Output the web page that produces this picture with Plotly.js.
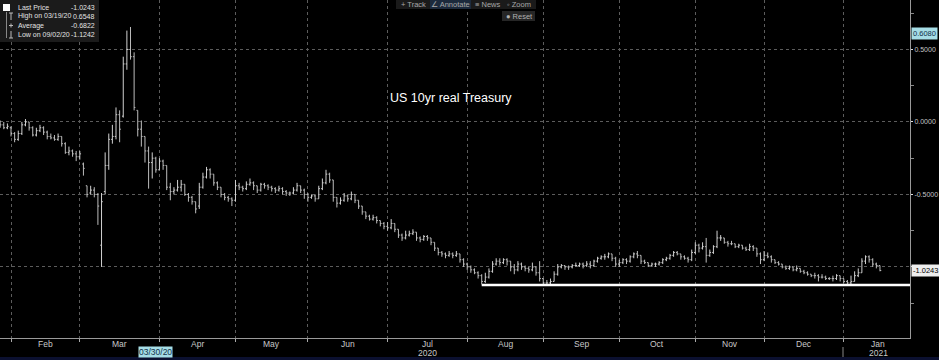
<!DOCTYPE html>
<html><head><meta charset="utf-8">
<script src="https://cdn.plot.ly/plotly-3.0.1.min.js"></script>
<style>html,body{margin:0;padding:0;background:#000;}#chart{width:939px;height:360px;}</style>
</head><body><div id="chart"></div>
<script>
// ---- data (US 10yr real Treasury yield, daily OHLC, trading days from 2020-01-29) ----
const START_DATE = '2020-01-29';
const HOLIDAYS = ['2020-02-17','2020-04-10','2020-05-25','2020-07-03','2020-09-07','2020-10-12','2020-11-11','2020-11-26','2020-12-25','2021-01-01','2021-01-18'];
const OPEN = [
-0.01,-0.02,-0.04,-0.04,-0.08,-0.12,-0.08,-0.02,0.00,-0.04,
-0.09,-0.06,-0.04,-0.07,-0.10,-0.11,-0.12,-0.10,-0.15,-0.21,
-0.20,-0.22,-0.24,-0.29,-0.44,-0.49,-0.47,-0.50,-0.85,-0.48,
-0.30,-0.12,-0.10,0.05,0.04,0.40,0.50,0.45,0.08,-0.05,
-0.10,-0.20,-0.28,-0.25,-0.33,-0.27,-0.30,-0.45,-0.48,-0.47,
-0.45,-0.43,-0.50,-0.52,-0.55,-0.58,-0.45,-0.38,-0.33,-0.36,
-0.42,-0.45,-0.50,-0.52,-0.53,-0.54,-0.44,-0.45,-0.46,-0.43,
-0.42,-0.44,-0.47,-0.43,-0.44,-0.45,-0.46,-0.47,-0.46,-0.48,
-0.49,-0.49,-0.47,-0.44,-0.47,-0.50,-0.52,-0.51,-0.53,-0.46,
-0.42,-0.36,-0.40,-0.52,-0.56,-0.54,-0.51,-0.53,-0.50,-0.54,
-0.58,-0.62,-0.65,-0.67,-0.66,-0.68,-0.70,-0.72,-0.73,-0.70,
-0.74,-0.78,-0.80,-0.78,-0.77,-0.76,-0.80,-0.81,-0.79,-0.80,
-0.83,-0.87,-0.90,-0.91,-0.92,-0.91,-0.92,-0.91,-0.95,-0.98,
-1.00,-1.02,-1.04,-1.06,-1.10,-1.07,-1.03,-0.98,-0.96,-0.97,
-0.95,-0.96,-1.00,-1.02,-0.98,-1.00,-1.01,-1.02,-1.00,-1.04,
-1.08,-1.11,-1.11,-1.10,-1.05,-1.00,-0.99,-1.00,-1.00,-0.99,
-0.99,-0.98,-0.99,-0.98,-0.99,-0.96,-0.94,-0.93,-0.93,-0.91,
-0.94,-0.98,-0.97,-0.95,-0.96,-0.93,-0.91,-0.92,-0.96,-0.97,
-0.99,-0.98,-0.98,-0.97,-0.95,-0.94,-0.92,-0.90,-0.91,-0.93,
-0.94,-0.95,-0.90,-0.85,-0.87,-0.86,-0.92,-0.90,-0.86,-0.80,
-0.80,-0.83,-0.84,-0.84,-0.86,-0.85,-0.87,-0.88,-0.86,-0.87,
-0.91,-0.95,-0.92,-0.93,-0.95,-0.97,-0.98,-1.00,-1.01,-1.00,
-1.02,-1.01,-1.03,-1.04,-1.05,-1.06,-1.06,-1.07,-1.07,-1.08,
-1.08,-1.08,-1.06,-1.08,-1.10,-1.11,-1.10,-1.06,-1.04,-0.96,
-0.93,-0.95,-0.98,-0.99];
const HIGH = [
0.01,0.00,-0.01,-0.03,-0.07,-0.06,0.00,0.02,0.00,-0.03,
-0.04,-0.02,-0.03,-0.06,-0.08,-0.09,-0.08,-0.10,-0.14,-0.17,
-0.19,-0.20,-0.20,-0.28,-0.44,-0.44,-0.45,-0.49,-0.49,-0.21,
-0.08,-0.02,0.10,0.08,0.45,0.63,0.655,0.48,0.08,0.01,
-0.10,-0.17,-0.21,-0.24,-0.25,-0.26,-0.30,-0.42,-0.45,-0.40,
-0.40,-0.43,-0.49,-0.51,-0.55,-0.42,-0.35,-0.31,-0.32,-0.36,
-0.41,-0.45,-0.49,-0.51,-0.52,-0.40,-0.42,-0.44,-0.41,-0.39,
-0.41,-0.44,-0.42,-0.42,-0.43,-0.44,-0.45,-0.44,-0.45,-0.47,
-0.48,-0.45,-0.42,-0.44,-0.46,-0.49,-0.50,-0.50,-0.44,-0.39,
-0.33,-0.35,-0.40,-0.52,-0.52,-0.49,-0.50,-0.48,-0.50,-0.54,
-0.58,-0.62,-0.64,-0.64,-0.65,-0.68,-0.69,-0.69,-0.67,-0.70,
-0.74,-0.77,-0.75,-0.75,-0.74,-0.76,-0.79,-0.78,-0.78,-0.80,
-0.83,-0.87,-0.89,-0.90,-0.89,-0.90,-0.89,-0.91,-0.94,-0.97,
-0.99,-1.01,-1.03,-1.05,-1.04,-1.01,-0.96,-0.94,-0.94,-0.94,
-0.94,-0.96,-0.98,-0.96,-0.97,-0.99,-1.00,-0.97,-1.00,-0.96,
-1.08,-1.09,-1.08,-1.03,-0.98,-0.98,-0.99,-0.99,-0.98,-0.97,
-0.97,-0.97,-0.96,-0.96,-0.95,-0.93,-0.92,-0.91,-0.90,-0.91,
-0.93,-0.95,-0.94,-0.94,-0.92,-0.90,-0.89,-0.92,-0.95,-0.97,
-0.97,-0.97,-0.96,-0.94,-0.93,-0.91,-0.89,-0.89,-0.91,-0.92,
-0.93,-0.88,-0.83,-0.84,-0.83,-0.80,-0.88,-0.85,-0.75,-0.78,
-0.80,-0.82,-0.82,-0.84,-0.84,-0.85,-0.86,-0.84,-0.85,-0.87,
-0.90,-0.89,-0.90,-0.92,-0.95,-0.96,-0.98,-0.99,-0.99,-1.00,
-0.99,-1.01,-1.02,-1.03,-1.05,-1.04,-1.05,-1.05,-1.06,-1.07,
-1.06,-1.05,-1.06,-1.08,-1.09,-1.06,-1.03,-1.01,-0.94,-0.92,
-0.92,-0.94,-0.97,-0.99];
const LOW = [
-0.04,-0.05,-0.05,-0.10,-0.14,-0.13,-0.09,-0.03,-0.06,-0.10,
-0.10,-0.07,-0.09,-0.12,-0.12,-0.13,-0.13,-0.17,-0.22,-0.23,
-0.24,-0.27,-0.26,-0.37,-0.52,-0.50,-0.52,-0.71,-1.00,-0.50,
-0.33,-0.15,-0.12,-0.14,0.03,0.36,0.43,0.08,-0.10,-0.17,
-0.28,-0.46,-0.39,-0.35,-0.33,-0.33,-0.47,-0.54,-0.50,-0.48,
-0.48,-0.51,-0.55,-0.57,-0.63,-0.60,-0.46,-0.39,-0.39,-0.44,
-0.47,-0.52,-0.54,-0.55,-0.58,-0.55,-0.47,-0.48,-0.47,-0.44,
-0.47,-0.49,-0.48,-0.46,-0.47,-0.48,-0.49,-0.48,-0.50,-0.51,
-0.51,-0.50,-0.48,-0.49,-0.53,-0.55,-0.53,-0.55,-0.53,-0.47,
-0.43,-0.42,-0.55,-0.59,-0.57,-0.55,-0.55,-0.54,-0.56,-0.60,
-0.64,-0.67,-0.68,-0.68,-0.70,-0.72,-0.74,-0.75,-0.74,-0.76,
-0.80,-0.82,-0.81,-0.79,-0.78,-0.82,-0.83,-0.82,-0.82,-0.85,
-0.89,-0.92,-0.93,-0.94,-0.93,-0.94,-0.93,-0.97,-1.00,-1.02,
-1.04,-1.05,-1.08,-1.12,-1.11,-1.08,-1.04,-0.99,-0.99,-0.98,
-0.99,-1.03,-1.05,-1.03,-1.02,-1.03,-1.04,-1.03,-1.06,-1.10,
-1.12,-1.1242,-1.12,-1.10,-1.06,-1.01,-1.02,-1.02,-1.01,-1.00,
-1.00,-1.01,-1.00,-1.01,-1.00,-0.97,-0.95,-0.95,-0.94,-0.96,
-1.00,-1.00,-0.98,-0.98,-0.97,-0.94,-0.94,-0.98,-0.98,-1.00,
-1.00,-1.00,-0.99,-0.98,-0.96,-0.95,-0.93,-0.92,-0.95,-0.95,
-0.97,-0.96,-0.91,-0.90,-0.88,-0.97,-0.93,-0.91,-0.87,-0.82,
-0.84,-0.86,-0.85,-0.87,-0.87,-0.88,-0.89,-0.89,-0.89,-0.93,
-0.98,-0.96,-0.94,-0.97,-0.98,-0.99,-1.01,-1.02,-1.02,-1.03,
-1.03,-1.04,-1.05,-1.06,-1.07,-1.08,-1.10,-1.08,-1.09,-1.09,
-1.10,-1.09,-1.10,-1.11,-1.12,-1.12,-1.10,-1.07,-1.04,-0.98,
-0.97,-1.00,-1.01,-1.03];
const CLOSE = [
-0.02,-0.04,-0.03,-0.08,-0.12,-0.08,-0.02,0.00,-0.04,-0.09,
-0.06,-0.04,-0.07,-0.10,-0.11,-0.12,-0.10,-0.15,-0.21,-0.20,
-0.22,-0.24,-0.22,-0.32,-0.50,-0.47,-0.50,-0.58,-0.55,-0.30,
-0.12,-0.10,0.05,-0.05,0.40,0.50,0.45,0.10,-0.05,-0.10,
-0.20,-0.28,-0.25,-0.33,-0.27,-0.30,-0.45,-0.48,-0.47,-0.45,
-0.43,-0.50,-0.52,-0.55,-0.60,-0.45,-0.38,-0.33,-0.36,-0.42,
-0.45,-0.50,-0.52,-0.53,-0.54,-0.44,-0.45,-0.46,-0.43,-0.42,
-0.44,-0.47,-0.43,-0.44,-0.45,-0.46,-0.47,-0.46,-0.48,-0.49,
-0.49,-0.47,-0.44,-0.47,-0.50,-0.52,-0.51,-0.53,-0.46,-0.42,
-0.36,-0.40,-0.52,-0.56,-0.54,-0.51,-0.53,-0.50,-0.54,-0.58,
-0.62,-0.65,-0.67,-0.66,-0.68,-0.70,-0.72,-0.73,-0.70,-0.74,
-0.78,-0.80,-0.78,-0.77,-0.76,-0.80,-0.81,-0.79,-0.80,-0.83,
-0.87,-0.90,-0.91,-0.92,-0.91,-0.92,-0.91,-0.95,-0.98,-1.00,
-1.02,-1.04,-1.06,-1.10,-1.07,-1.03,-0.98,-0.96,-0.97,-0.95,
-0.96,-1.00,-1.02,-0.98,-1.00,-1.01,-1.02,-1.00,-1.04,-1.08,
-1.11,-1.11,-1.10,-1.05,-1.00,-0.99,-1.00,-1.00,-0.99,-0.99,
-0.98,-0.99,-0.98,-0.99,-0.96,-0.94,-0.93,-0.93,-0.91,-0.94,
-0.98,-0.97,-0.95,-0.96,-0.93,-0.91,-0.92,-0.96,-0.97,-0.99,
-0.98,-0.98,-0.97,-0.95,-0.94,-0.92,-0.90,-0.91,-0.93,-0.94,
-0.95,-0.90,-0.85,-0.87,-0.86,-0.92,-0.90,-0.86,-0.80,-0.80,
-0.83,-0.84,-0.84,-0.86,-0.85,-0.87,-0.88,-0.86,-0.87,-0.91,
-0.95,-0.92,-0.93,-0.95,-0.97,-0.98,-1.00,-1.01,-1.00,-1.02,
-1.01,-1.03,-1.04,-1.05,-1.06,-1.06,-1.07,-1.07,-1.08,-1.08,
-1.08,-1.06,-1.08,-1.10,-1.11,-1.10,-1.06,-1.04,-0.96,-0.93,
-0.95,-0.98,-0.99,-1.0243];
const MONTH_NAMES = ['Jan','Feb','Mar','Apr','May','Jun','Jul','Aug','Sep','Oct','Nov','Dec'];
const Y_TICKS = [0.5, 0, -0.5, -1.0];
const Y_TICK_TEXT = ['0.5000', '0.0000', '-0.5000', ''];
const Y_MINOR = [0.75, 0.25, -0.25, -0.75, -1.25];
const LEGEND_ROWS = [['Last Price', '-1.0243'], ['High on 03/19/20', '0.6548'], ['Average', '-0.6822'], ['Low on 09/02/20', '-1.1242']];
const LAST_PRICE = -1.0243;
const LOW_LEVEL = -1.1242;
const LOW_LINE_START = '2020-08-07';
const CROSS_VALUE = 0.6080;
const CROSS_DATE = '2020-03-31';
const CROSS_DATE_TEXT = '03/30/20';
const TITLE = 'US 10yr real Treasury';

// ---- trading calendar (x positions only) ----
const hol = new Set(HOLIDAYS);
const days = [];
{
  const d = new Date(START_DATE + 'T00:00:00Z');
  while (days.length < CLOSE.length + 12) {
    const wd = d.getUTCDay();
    const iso = d.toISOString().slice(0, 10);
    if (wd !== 0 && wd !== 6 && !hol.has(iso)) days.push(iso);
    d.setUTCDate(d.getUTCDate() + 1);
  }
}
const X = days.slice(0, CLOSE.length);
const starts = [];
for (let k = 1; k < days.length; k++) if (days[k].slice(0, 7) !== days[k - 1].slice(0, 7)) starts.push(k);
function fracDate(f) {
  const i = Math.floor(f), r = f - i;
  const t = new Date(days[i] + 'T00:00:00Z').getTime() + r * 86400000;
  return new Date(t).toISOString().replace('T', ' ').slice(0, 16);
}

const W = 910, H = 338;
const px = v => v / W;
const py = v => (H - v) / H;
const FONT = 'Liberation Sans';

const annotations = [];
const shapes = [];

// month & year labels
for (let j = 0; j + 1 < starts.length; j++) {
  const mid = (starts[j] + starts[j + 1]) / 2;
  const dt = days[starts[j]];
  const m = parseInt(dt.slice(5, 7), 10) - 1;
  const xd = fracDate(mid);
  annotations.push({x: xd, xref: 'x', y: py(344), yref: 'paper', text: MONTH_NAMES[m], showarrow: false,
    font: {family: FONT, size: 8.5, color: '#c8c8c8'}, xanchor: 'center', yanchor: 'middle'});
  if (m === 6 || m === 0) {
    annotations.push({x: xd, xref: 'x', y: py(353), yref: 'paper', text: dt.slice(0, 4), showarrow: false,
      font: {family: FONT, size: 8.5, color: '#c8c8c8'}, xanchor: 'center', yanchor: 'middle'});
  }
}
// crosshair date label
annotations.push({x: CROSS_DATE, xref: 'x', y: py(351.5), yref: 'paper', text: CROSS_DATE_TEXT, showarrow: false,
  font: {family: FONT, size: 8.5, color: '#10304a'}, bgcolor: '#a6dde6', borderpad: 0, xanchor: 'center', yanchor: 'middle'});
// right side value labels
annotations.push({x: 1, xref: 'paper', xshift: 1, y: CROSS_VALUE, yref: 'y', text: '0.6080', showarrow: false,
  font: {family: FONT, size: 7.5, color: '#10304a'}, bgcolor: '#a6dde6', borderpad: 1, xanchor: 'left', yanchor: 'middle'});
annotations.push({x: 1, xref: 'paper', xshift: 1, y: LAST_PRICE, yref: 'y', text: '-1.0243', showarrow: false,
  font: {family: FONT, size: 7.5, color: '#000'}, bgcolor: '#eeeeee', borderpad: 1, xanchor: 'left', yanchor: 'middle'});
// chart title text
annotations.push({x: px(451), xref: 'paper', y: py(98), yref: 'paper', text: TITLE, showarrow: false,
  font: {family: FONT, size: 12.5, color: '#ffffff'}, xanchor: 'center', yanchor: 'middle'});

// legend box (top-left)
shapes.push({type: 'rect', xref: 'paper', yref: 'paper', x0: px(0), x1: px(99), y0: py(42), y1: py(0),
  fillcolor: '#1b1b1b', line: {width: 0}, layer: 'above'});
shapes.push({type: 'rect', xref: 'paper', yref: 'paper', x0: px(3), x1: px(10), y0: py(11), y1: py(4),
  fillcolor: '#ffffff', line: {width: 0}});
shapes.push({type: 'line', xref: 'paper', yref: 'paper', x0: px(6.5), x1: px(6.5), y0: py(12), y1: py(38),
  line: {color: '#888', width: 1}});
const rowY = [7.5, 16.5, 25.5, 34.5];
LEGEND_ROWS.forEach((r, i) => {
  annotations.push({x: px(16), xref: 'paper', y: py(rowY[i]), yref: 'paper', text: r[0], showarrow: false,
    font: {family: FONT, size: 7, color: '#e2e2e2'}, xanchor: 'left', yanchor: 'middle'});
  annotations.push({x: px(97), xref: 'paper', y: py(rowY[i]), yref: 'paper', text: r[1], showarrow: false,
    font: {family: FONT, size: 7, color: '#e2e2e2'}, xanchor: 'right', yanchor: 'middle'});
});
// small legend icons
shapes.push({type: 'line', xref: 'paper', yref: 'paper', x0: px(11), x1: px(11), y0: py(13), y1: py(20), line: {color: '#bbb', width: 1}});
shapes.push({type: 'line', xref: 'paper', yref: 'paper', x0: px(9), x1: px(13), y0: py(13), y1: py(13), line: {color: '#bbb', width: 1}});
shapes.push({type: 'line', xref: 'paper', yref: 'paper', x0: px(9), x1: px(13), y0: py(25.5), y1: py(25.5), line: {color: '#bbb', width: 1}});
shapes.push({type: 'line', xref: 'paper', yref: 'paper', x0: px(11), x1: px(11), y0: py(23.5), y1: py(27.5), line: {color: '#bbb', width: 1}});
shapes.push({type: 'line', xref: 'paper', yref: 'paper', x0: px(11), x1: px(11), y0: py(31), y1: py(38), line: {color: '#bbb', width: 1}});
shapes.push({type: 'line', xref: 'paper', yref: 'paper', x0: px(9), x1: px(13), y0: py(38), y1: py(38), line: {color: '#bbb', width: 1}});

// toolbar
shapes.push({type: 'rect', xref: 'paper', yref: 'paper', x0: px(396), x1: px(536), y0: py(9), y1: py(0),
  fillcolor: '#1a1a1a', line: {width: 0}});
shapes.push({type: 'rect', xref: 'paper', yref: 'paper', x0: px(430), x1: px(471), y0: py(9), y1: py(0),
  fillcolor: '#1c2a3c', line: {width: 0}});
shapes.push({type: 'rect', xref: 'paper', yref: 'paper', x0: px(502), x1: px(535), y0: py(21), y1: py(11),
  fillcolor: '#262626', line: {width: 0}});
[['+ Track', 413], ['\u2220 Annotate', 450], ['\u2261 News', 487], ['\u25E6 Zoom', 519]].forEach(t => {
  annotations.push({x: px(t[1]), xref: 'paper', y: py(4.8), yref: 'paper', text: t[0], showarrow: false,
    font: {family: FONT, size: 7.5, color: '#a8a8a8'}, xanchor: 'center', yanchor: 'middle'});
});
annotations.push({x: px(519), xref: 'paper', y: py(16), yref: 'paper', text: '\u25CF Reset', showarrow: false,
  font: {family: FONT, size: 7.5, color: '#b0b0b0'}, xanchor: 'center', yanchor: 'middle'});

// support line at the low
const X_END = '2021-01-29 07:00';
shapes.push({type: 'line', xref: 'x', yref: 'y', x0: LOW_LINE_START, x1: X_END, y0: LOW_LEVEL, y1: LOW_LEVEL,
  line: {color: '#ffffff', width: 2.5}});
// year separator under Jan, bottom strip
shapes.push({type: 'line', xref: 'paper', yref: 'paper', x0: px(843), x1: px(843), y0: py(347), y1: py(358),
  line: {color: '#888', width: 1}});
shapes.push({type: 'rect', xref: 'paper', yref: 'paper', x0: -0.01, x1: 1.04, y0: py(361), y1: py(357),
  fillcolor: '#0b1030', line: {width: 0}});

const trace = {
  type: 'ohlc', x: X, open: OPEN, high: HIGH, low: LOW, close: CLOSE,
  increasing: {line: {color: '#d0d0d0', width: 1}},
  decreasing: {line: {color: '#bdbdbd', width: 1}},
  tickwidth: 0.35, hoverinfo: 'skip', showlegend: false
};

const layout = {
  width: 939, height: 360,
  margin: {l: 0, r: 29, t: 0, b: 22, pad: 0},
  paper_bgcolor: '#000000', plot_bgcolor: '#000000',
  font: {family: FONT, size: 9, color: '#c8c8c8'},
  showlegend: false,
  xaxis: {
    type: 'date', range: ['2020-01-28 23:00', X_END],
    rangebreaks: [{bounds: ['sat', 'mon']}, {values: HOLIDAYS}],
    rangeslider: {visible: false},
    tickmode: 'array', tickvals: starts.map(k => days[k]), showticklabels: false,
    ticks: 'outside', ticklen: 3, tickcolor: '#aaaaaa',
    showgrid: true, gridcolor: '#5c5c5c', griddash: 'dot', gridwidth: 1,
    showline: true, linecolor: '#9a9a9a', linewidth: 1, zeroline: false, fixedrange: true
  },
  yaxis: {
    side: 'right', range: [-1.49, 0.841],
    tickmode: 'array', tickvals: Y_TICKS, ticktext: Y_TICK_TEXT,
    ticks: 'outside', ticklen: 2, tickcolor: '#dddddd', ticklabelstandoff: 0,
    tickfont: {family: FONT, size: 7, color: '#c4c4c4'},
    minor: {tickmode: 'array', tickvals: Y_MINOR, ticks: 'outside', ticklen: 3, tickcolor: '#888888', showgrid: false},
    showgrid: true, gridcolor: '#5c5c5c', griddash: 'dot', gridwidth: 1,
    showline: true, linecolor: '#9a9a9a', linewidth: 1, zeroline: false, fixedrange: true
  },
  annotations: annotations,
  shapes: shapes
};

Plotly.newPlot('chart', [trace], layout, {displayModeBar: false, staticPlot: true});
</script>
</body></html>
